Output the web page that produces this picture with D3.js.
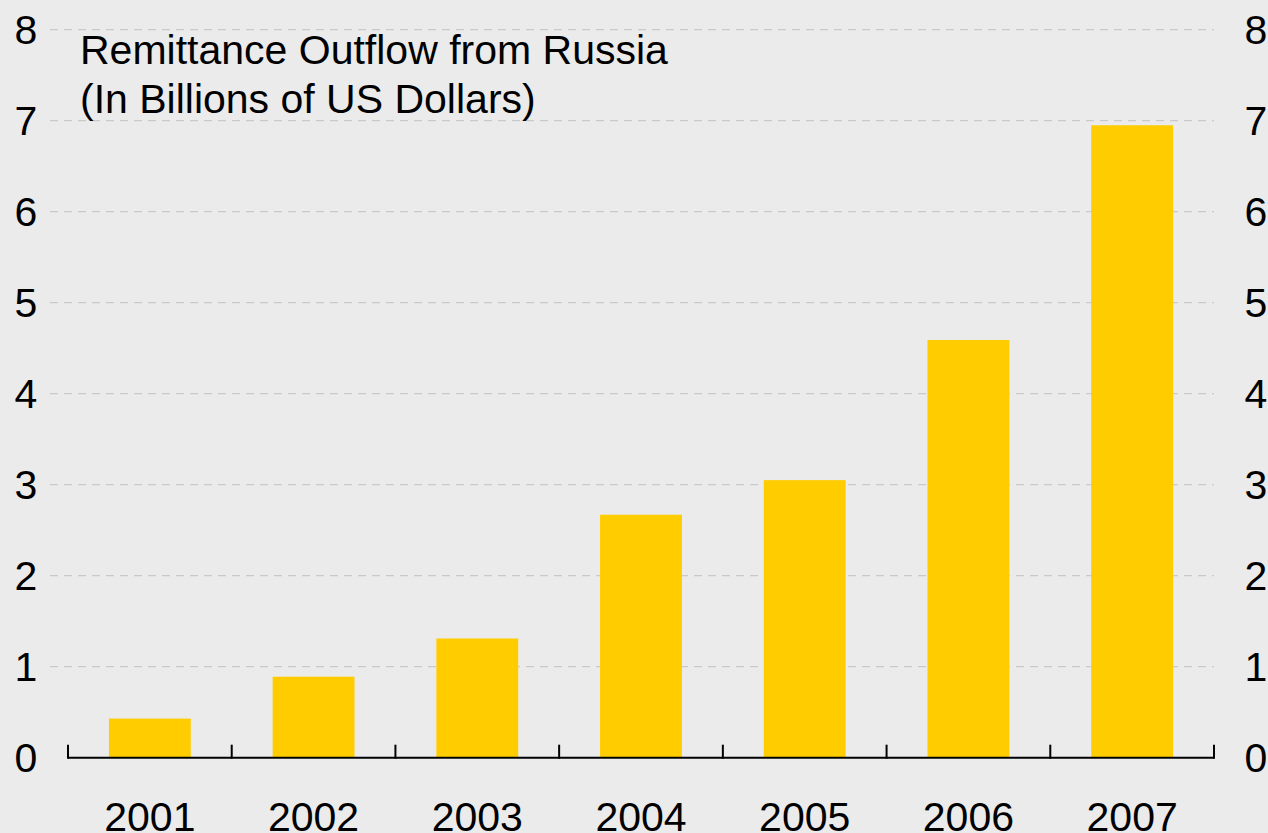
<!DOCTYPE html>
<html><head><meta charset="utf-8">
<script src="https://cdn.jsdelivr.net/npm/d3@7/dist/d3.min.js"></script>
<style>html,body{margin:0;padding:0;background:#ebebeb;}svg{display:block;}</style>
</head><body>
<svg id="c" width="1268" height="833"></svg>
<script>
const years = ["2001","2002","2003","2004","2005","2006","2007"];
const outflow = [0.43, 0.89, 1.31, 2.67, 3.05, 4.59, 6.95];
const yTicks = [0,1,2,3,4,5,6,7,8];
const titleLines = ["Remittance Outflow from Russia","(In Billions of US Dollars)"];

(function(){
const svg = d3.select("#c");
const W = 1268, H = 833;
const mLeft = 68, mRight = 1214, mTop = 29.7, mBottom = 757.7;
svg.append("rect").attr("width",W).attr("height",H).attr("fill","#ebebeb");

const x = d3.scaleBand().domain(years).range([mLeft,mRight]).paddingInner(0.5).paddingOuter(0.25);
const y = d3.scaleLinear().domain([0,8]).range([mBottom,mTop]);
const font = "Liberation Sans, Arial, sans-serif";
const fs = 41;

// gridlines
svg.append("g").selectAll("line").data(yTicks.filter(d=>d>0)).join("line")
  .attr("x1",50).attr("x2",mRight).attr("y1",d=>y(d)).attr("y2",d=>y(d))
  .attr("stroke","#c9c9c9").attr("stroke-width",1.3).attr("stroke-dasharray","8,6");

// bars
svg.append("g").selectAll("rect").data(years).join("rect")
  .attr("x",d=>x(d)).attr("width",x.bandwidth())
  .attr("y",(d,i)=>y(outflow[i])).attr("height",(d,i)=>y(0)-y(outflow[i]))
  .attr("fill","#ffcc00");

// x axis line & ticks
const xa = svg.append("g");
xa.append("line").attr("x1",mLeft).attr("x2",mRight).attr("y1",mBottom).attr("y2",mBottom)
  .attr("stroke","#000").attr("stroke-width",2);
const bounds = years.map(d=>x(d)-x.step()*x.paddingInner()/2).concat([mRight]);
xa.selectAll("line.t").data(bounds).join("line").attr("class","t")
  .attr("x1",d=>d).attr("x2",d=>d).attr("y1",mBottom+1).attr("y2",mBottom-13)
  .attr("stroke","#000").attr("stroke-width",2);
xa.selectAll("text").data(years).join("text")
  .attr("x",d=>x(d)+x.bandwidth()/2).attr("y",830.5)
  .attr("text-anchor","middle").attr("font-family",font).attr("font-size",fs).attr("fill","#000")
  .text(d=>d);

// y labels both sides
svg.append("g").selectAll("text").data(yTicks).join("text")
  .attr("x",26).attr("y",d=>y(d)).attr("dy","0.36em").attr("text-anchor","middle")
  .attr("font-family",font).attr("font-size",fs).text(d=>d);
svg.append("g").selectAll("text").data(yTicks).join("text")
  .attr("x",1256).attr("y",d=>y(d)).attr("dy","0.36em").attr("text-anchor","middle")
  .attr("font-family",font).attr("font-size",fs).text(d=>d);

// title
svg.append("g").selectAll("text").data(titleLines).join("text")
  .attr("x",80).attr("y",(d,i)=>64+i*49)
  .attr("font-family",font).attr("font-size",fs).text(d=>d);
})();
</script>
</body></html>
